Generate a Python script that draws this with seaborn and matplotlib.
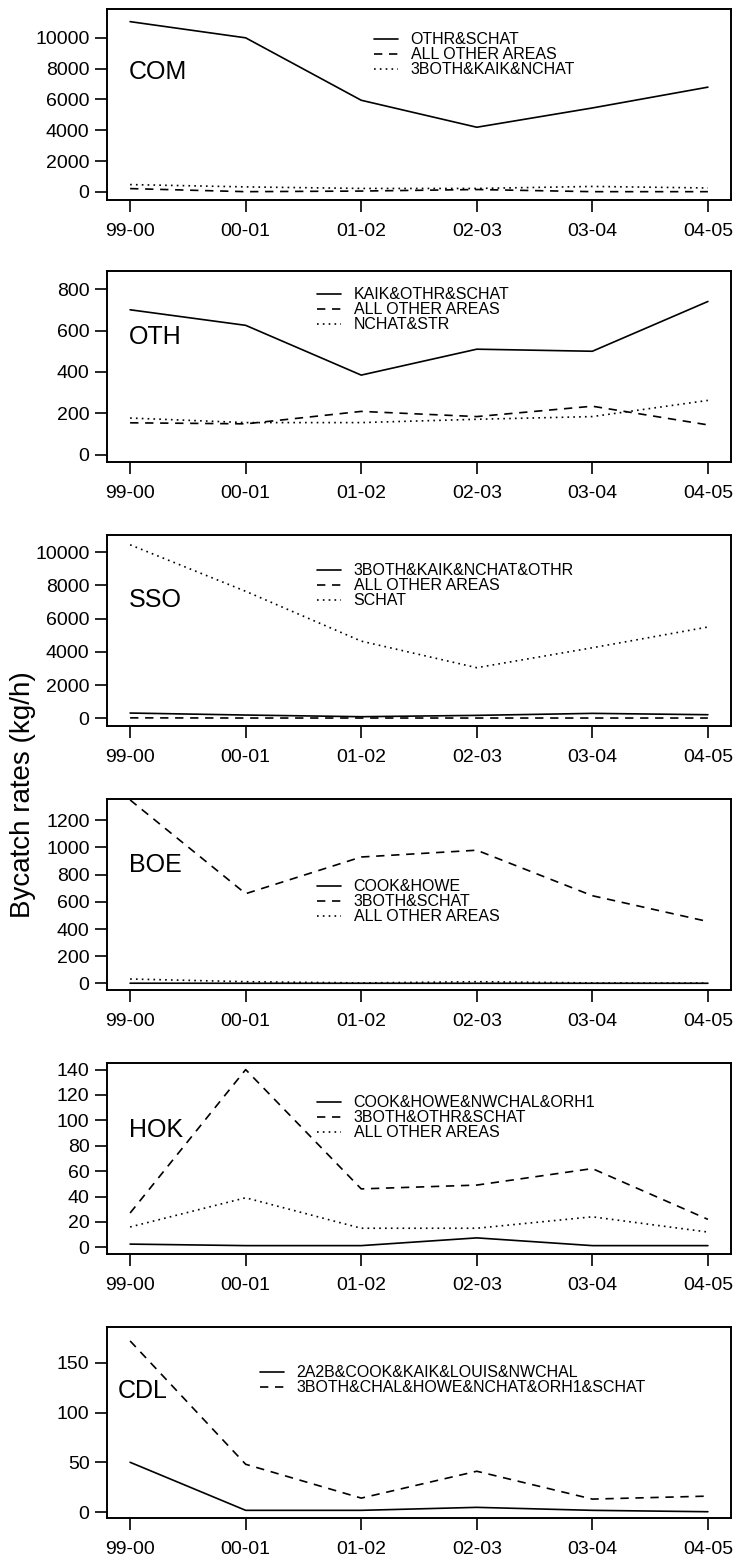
import numpy as np
import pandas as pd
import matplotlib
matplotlib.use("Agg")
import matplotlib.pyplot as plt
import seaborn as sns

seasons = ['99-00', '00-01', '01-02', '02-03', '03-04', '04-05']

# COM
com_names = ['OTHR&SCHAT', 'ALL OTHER AREAS', '3BOTH&KAIK&NCHAT']
com_solid = [11050, 10000, 5950, 4200, 5450, 6800]
com_dashed = [220, 20, 60, 160, 20, 20]
com_dotted = [480, 330, 230, 230, 360, 260]
com_yticks = [0, 2000, 4000, 6000, 8000, 10000]

# OTH
oth_names = ['KAIK&OTHR&SCHAT', 'ALL OTHER AREAS', 'NCHAT&STR']
oth_solid = [700, 625, 385, 510, 500, 740]
oth_dashed = [155, 150, 210, 185, 235, 145]
oth_dotted = [178, 156, 156, 172, 185, 263]
oth_yticks = [0, 200, 400, 600, 800]

# SSO
sso_names = ['3BOTH&KAIK&NCHAT&OTHR', 'ALL OTHER AREAS', 'SCHAT']
sso_solid = [320, 200, 100, 180, 300, 220]
sso_dashed = [30, 20, 20, 20, 20, 20]
sso_dotted = [10450, 7650, 4650, 3050, 4250, 5500]
sso_yticks = [0, 2000, 4000, 6000, 8000, 10000]

# BOE
boe_names = ['COOK&HOWE', '3BOTH&SCHAT', 'ALL OTHER AREAS']
boe_solid = [1, 0.5, 0.5, 0.5, 0.5, 0.5]
boe_dashed = [1350, 660, 930, 980, 645, 455]
boe_dotted = [32, 12, 3, 12, 3, 2]
boe_yticks = [0, 200, 400, 600, 800, 1000, 1200]

# HOK
hok_names = ['COOK&HOWE&NWCHAL&ORH1', '3BOTH&OTHR&SCHAT', 'ALL OTHER AREAS']
hok_solid = [2.5, 1.3, 1.3, 7.4, 1.3, 1.3]
hok_dashed = [27, 140, 46, 49, 62, 22]
hok_dotted = [16, 39, 15, 15, 24, 12]
hok_yticks = [0, 20, 40, 60, 80, 100, 120, 140]

# CDL
cdl_names = ['2A2B&COOK&KAIK&LOUIS&NWCHAL', '3BOTH&CHAL&HOWE&NCHAT&ORH1&SCHAT']
cdl_solid = [50, 1.7, 1.7, 4.7, 1.7, 0.3]
cdl_dashed = [172, 48, 14, 41, 13, 16]
cdl_yticks = [0, 50, 100, 150]

panels = [
    ('COM', com_names, [com_solid, com_dashed, com_dotted], com_yticks, (-520, 11870)),
    ('OTH', oth_names, [oth_solid, oth_dashed, oth_dotted], oth_yticks, (-34, 887)),
    ('SSO', sso_names, [sso_solid, sso_dashed, sso_dotted], sso_yticks, (-460, 11040)),
    ('BOE', boe_names, [boe_solid, boe_dashed, boe_dotted], boe_yticks, (-49, 1357)),
    ('HOK', hok_names, [hok_solid, hok_dashed, hok_dotted], hok_yticks, (-5.3, 145.2)),
    ('CDL', cdl_names, [cdl_solid, cdl_dashed], cdl_yticks, (-6, 186)),
]

# layout in pixels
W, H = 736, 1562
box_left, box_right = 107, 731
box_tops = [9, 271, 535, 799, 1063, 1327]
box_h = 191
legend_pos = [(374, 38), (317, 293), (317, 569), (317, 885), (317, 1101), (260, 1371)]
label_pos = [(129, 72), (129, 337), (129, 600), (129, 865), (129, 1130), (118, 1391)]
line_styles = ['-', (0, (5, 4)), (0, (1, 2.5))]

sns.set_style('ticks')
plt.rcParams['font.family'] = ['Liberation Sans', 'DejaVu Sans']
plt.rcParams['text.color'] = 'black'
plt.rcParams['axes.labelcolor'] = 'black'
plt.rcParams['xtick.color'] = 'black'
plt.rcParams['ytick.color'] = 'black'

fig = plt.figure(figsize=(W / 100, H / 100), dpi=100)
bw = box_right - box_left
x = np.arange(len(seasons))

for i, (code, names, series, yticks, ylim) in enumerate(panels):
    top = box_tops[i]
    ax = fig.add_axes([box_left / W, 1 - (top + box_h) / H, bw / W, box_h / H])
    for name, vals, ls in zip(names, series, line_styles):
        df = pd.DataFrame({'x': x, 'y': vals})
        sns.lineplot(data=df, x='x', y='y', ax=ax, color='black', lw=1.2,
                     linestyle=ls, label=name, sort=False)
    ax.set_xlim(-0.2, 5.2)
    ax.set_ylim(*ylim)
    ax.set_xticks(x)
    ax.set_xticklabels(seasons)
    ax.set_yticks(yticks)
    ax.set_xlabel('')
    ax.set_ylabel('')
    for s in ax.spines.values():
        s.set_visible(True)
        s.set_linewidth(1.4)
        s.set_color('black')
    ax.tick_params(axis='both', length=8.6, width=1.2, labelsize=14, colors='black')
    ax.tick_params(axis='y', pad=4)
    ax.tick_params(axis='x', pad=8)

    lx, ly = legend_pos[i]
    fs = 11.5
    top_px = ly - 5.6
    ax.legend(loc='upper left',
              bbox_to_anchor=((lx - box_left) / bw, (top + box_h - top_px) / box_h),
              frameon=False, fontsize=fs, handlelength=1.5, handletextpad=0.8,
              labelspacing=0.0, borderpad=0, borderaxespad=0)

    tx, ty = label_pos[i]
    ax.text((tx - box_left) / bw, (top + box_h - ty) / box_h, code,
            transform=ax.transAxes, fontsize=18, ha='left', va='center')

fig.text(23 / W, 1 - 795 / H, 'Bycatch rates (kg/h)', rotation=90,
         ha='center', va='center', fontsize=20)

fig.savefig('out.png', dpi=100)
